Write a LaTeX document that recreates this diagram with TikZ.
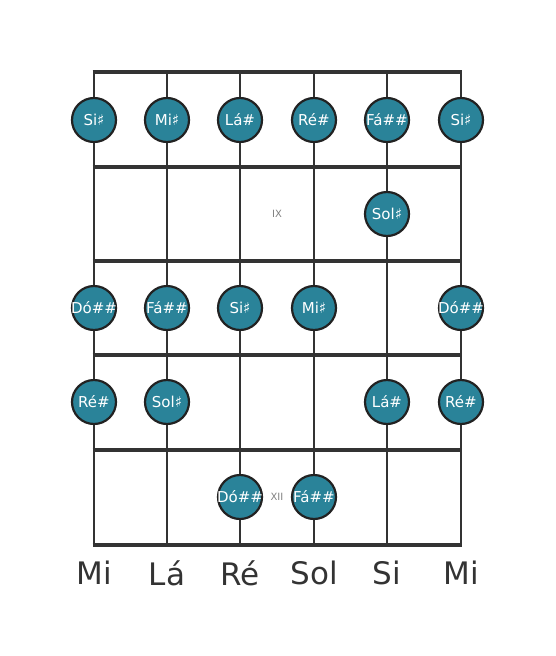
\documentclass[tikz,border=0pt]{standalone}
\usepackage{fontspec}
\setmainfont{DejaVu Sans}
\definecolor{linec}{HTML}{333333}
\definecolor{dotc}{HTML}{2A8399}
\definecolor{dotb}{HTML}{222222}
\begin{document}
\begin{tikzpicture}[x=1pt,y=-1pt,
  fret/.style={line width=4.2pt,draw=linec},
  strg/.style={line width=2.6pt,draw=linec},
  dot/.style={circle,fill=dotc,draw=dotb,line width=2.2pt,minimum size=44pt,inner sep=0pt},
  ntext/.style={inner sep=0pt,text=white,font=\fontsize{15}{15}\selectfont},
  fnum/.style={text=gray,font=\fontsize{10}{10}\selectfont},
  sname/.style={text=linec,font=\fontsize{31}{31}\selectfont}]
\useasboundingbox (0,0) rectangle (555,656);
% strings
\foreach \x/\n in {94/s1,167/s2,240/s3,314/s4,387/s5,461/s6}{
  \coordinate (\n t) at (\x,72);
  \coordinate (\n b) at (\x,545);
  \draw[strg] (\n t) -- (\n b);
}
% frets
\foreach \y/\n in {72/f0,167/f1,261/f2,355/f3,450/f4,545/f5}{
  \coordinate (\n l) at (92.7,\y);
  \coordinate (\n r) at (462.3,\y);
  \draw[fret] (\n l) -- (\n r);
}
% fret numbers
\node[fnum] (ix) at (277,214) {IX};
\node[fnum] (xii) at (277,497) {XII};
% notes
\foreach \n/\x/\y/\t in {
  a1/94/120/Si♯, a2/167/120/Mi♯, a3/240/120/Lá\#, a4/314/120/Ré\#, a5/387/120/Fá\#\#, a6/461/120/Si♯,
  b5/387/214/Sol♯,
  c1/94/308/Dó\#\#, c2/167/308/Fá\#\#, c3/240/308/Si♯, c4/314/308/Mi♯, c6/461/308/Dó\#\#,
  d1/94/402/Ré\#, d2/167/402/Sol♯, d5/387/402/Lá\#, d6/461/402/Ré\#,
  e3/240/497/Dó\#\#, e4/314/497/Fá\#\#}{
  \node[dot] (\n) at (\x,\y) {};
  \node[ntext] (\n t) at (\n) {\t};
}
% string names
\node[sname] (n1) at (94,573) {Mi};
\node[sname] (n2) at (167,573) {Lá};
\node[sname] (n3) at (240,573) {Ré};
\node[sname] (n4) at (314,573) {Sol};
\node[sname] (n5) at (387,573) {Si};
\node[sname] (n6) at (461,573) {Mi};
\end{tikzpicture}
\end{document}
